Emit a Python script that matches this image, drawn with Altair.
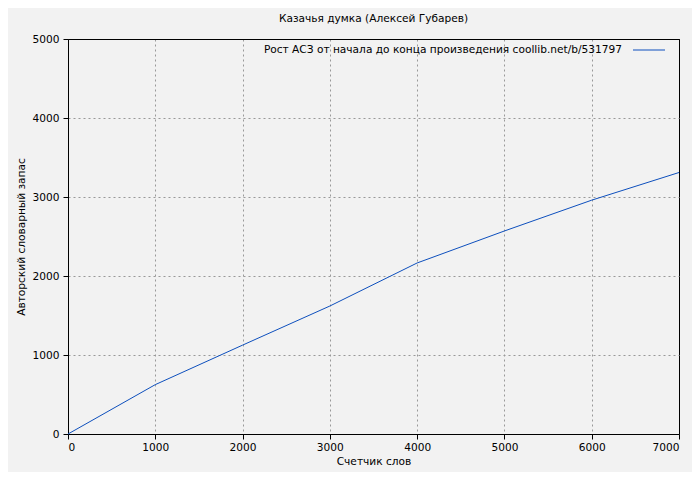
import altair as alt
import pandas as pd

words = [0, 1000, 2000, 3000, 4000, 5000, 6000, 7000]
vocab = [0, 625, 1125, 1620, 2165, 2570, 2960, 3310]
legend_label = ["Рост АСЗ от начала до конца произведения  coollib.net/b/531797"]

df = pd.DataFrame({"words": words, "vocab": vocab})
FONT = "DejaVu Sans"
FS = 10.6


def grid_color(end):
    return {"condition": {"test": f"datum.value == {end}", "value": "black"}, "value": "#999999"}


def grid_dash(end):
    return {"condition": {"test": f"datum.value == {end}", "value": []}, "value": [2, 3]}


line = alt.Chart(df).mark_line(color="#0d4fbd", strokeWidth=1).encode(
    x=alt.X("words:Q", scale=alt.Scale(domain=[0, 7000], nice=False),
            axis=alt.Axis(title="Счетчик слов", values=list(range(0, 7001, 1000)), format="d",
                          grid=True, gridDash=grid_dash(7000), gridColor=grid_color(7000),
                          domainColor="black", tickColor="black", tickSize=5,
                          labelColor="black", titleColor="black",
                          labelFontSize=FS, titleFontSize=FS, titleFontWeight="normal",
                          labelFont=FONT, titleFont=FONT, titlePadding=4,
                          labelPadding=3)),
    y=alt.Y("vocab:Q", scale=alt.Scale(domain=[0, 5000], nice=False),
            axis=alt.Axis(title="Авторский словарный запас", values=list(range(0, 5001, 1000)), format="d",
                          grid=True, gridDash=grid_dash(5000), gridColor=grid_color(5000),
                          domainColor="black", tickColor="black", tickSize=5,
                          labelColor="black", titleColor="black",
                          labelFontSize=FS, titleFontSize=FS, titleFontWeight="normal",
                          labelFont=FONT, titleFont=FONT, titlePadding=6,
                          labelPadding=4)),
)

leg_df = pd.DataFrame({"label": legend_label})
leg_text = alt.Chart(leg_df).mark_text(align="right", baseline="middle", fontSize=FS,
                                       font=FONT, color="black").encode(
    text="label:N", x=alt.value(554), y=alt.value(11))
leg_line = alt.Chart(leg_df).mark_rule(color="#0d4fbd", strokeWidth=1).encode(
    x=alt.value(565), x2=alt.value(597), y=alt.value(11))

chart = alt.layer(line, leg_text, leg_line).properties(
    width=611, height=395,
    title=alt.TitleParams("Казачья думка (Алексей Губарев)", fontSize=FS, font=FONT,
                          fontWeight="normal", color="black", offset=9),
    background="#f2f2f2",
    autosize=alt.AutoSizeParams(type="none"),
    padding={"left": 60, "top": 31, "right": 13, "bottom": 38},
).configure_view(stroke="black", strokeWidth=1, fill="#f2f2f2")

chart.save("out.html", embed_options={"renderer": "svg", "actions": False})
